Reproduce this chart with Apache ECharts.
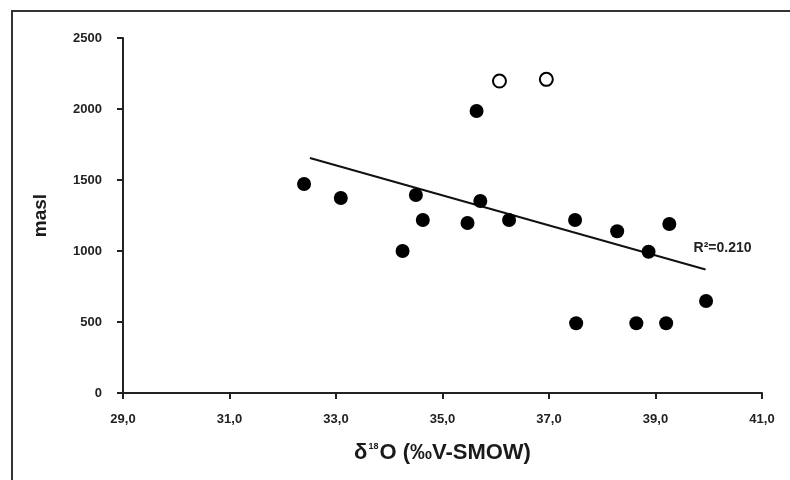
<!DOCTYPE html>
<html>
<head>
<meta charset="utf-8">
<script src="https://cdn.jsdelivr.net/npm/echarts@6/dist/echarts.min.js"></script>
<style>html,body{margin:0;padding:0;background:#fff}#c{width:790px;height:480px}</style>
</head>
<body>
<div id="c"></div>
<script>
// Filled circles (δ18O, masl)
var filledX = [32.40, 33.09, 34.25, 34.50, 34.63, 35.47, 35.64, 35.71, 36.25, 37.49, 38.28, 39.26, 38.87, 39.95, 37.51, 38.64, 39.20];
var filledY = [1472, 1373, 1000, 1394, 1218, 1197, 1986, 1352, 1218, 1218, 1139, 1190, 995, 648, 491, 491, 491];
// Open circles
var openX = [36.07, 36.95];
var openY = [2197, 2209];
// Trend line end points
var trendX = [32.51, 39.94];
var trendY = [1655, 870];
var r2Label = 'R²=0.210';
var xTicks = [29, 31, 33, 35, 37, 39, 41];
var yTicks = [0, 500, 1000, 1500, 2000, 2500];

function pairs(xs, ys){ return xs.map(function(x,i){ return [x, ys[i]]; }); }

var chart = echarts.init(document.getElementById('c'), null, {renderer:'canvas'});
var font = 'Liberation Sans, Arial, sans-serif';
chart.setOption({
  animation: false,
  backgroundColor: '#fff',
  graphic: [
    {type:'rect', shape:{x:12, y:11, width:800, height:500}, style:{fill:'none', stroke:'#333', lineWidth:2}, z:0}
  ],
  grid: {left:123, right:28, top:38, bottom:87},
  xAxis: {
    type:'value', min:xTicks[0], max:xTicks[xTicks.length-1], interval:2,
    name:'{a|δ}{s|18}{a|O (‰V-SMOW)}', nameLocation:'middle', nameGap:49,
    nameTextStyle:{rich:{
      a:{fontFamily:font, fontWeight:'bold', fontSize:22, color:'#1a1a1a'},
      s:{fontFamily:font, fontWeight:'bold', fontSize:9, color:'#1a1a1a', verticalAlign:'top', padding:[0,1,11,1]}
    }},
    splitLine:{show:false},
    axisLine:{onZero:false, lineStyle:{color:'#222', width:2}},
    axisTick:{inside:false, length:6, lineStyle:{color:'#222', width:2}},
    axisLabel:{fontFamily:font, fontWeight:'bold', fontSize:13, color:'#222', margin:20,
      formatter:function(v){ return v.toFixed(1).replace('.', ','); }}
  },
  yAxis: {
    type:'value', min:yTicks[0], max:yTicks[yTicks.length-1], interval:500,
    name:'masl', nameLocation:'middle', nameGap:73, nameRotate:90,
    nameTextStyle:{fontFamily:font, fontWeight:'bold', fontSize:19, color:'#1a1a1a'},
    splitLine:{show:false},
    axisLine:{show:true, lineStyle:{color:'#222', width:2}},
    axisTick:{show:true, inside:false, length:6, lineStyle:{color:'#222', width:2}},
    axisLabel:{fontFamily:font, fontWeight:'bold', fontSize:13, color:'#222', margin:21,
      formatter:function(v){ return String(v); }}
  },
  series: [
    {type:'line', data:pairs(trendX, trendY), symbol:'none', lineStyle:{color:'#111', width:2}, z:2,
      endLabel:{show:true, formatter:r2Label, fontFamily:font, fontWeight:'bold', fontSize:14, color:'#222', offset:[-20,-21]}},
    {type:'scatter', data:pairs(filledX, filledY), symbol:'circle', symbolSize:14, itemStyle:{color:'#000', opacity:1}, z:3},
    {type:'scatter', data:pairs(openX, openY), symbol:'circle', symbolSize:13, itemStyle:{color:'#fff', borderColor:'#000', borderWidth:2, opacity:1}, z:3}
  ]
});
</script>
</body>
</html>
